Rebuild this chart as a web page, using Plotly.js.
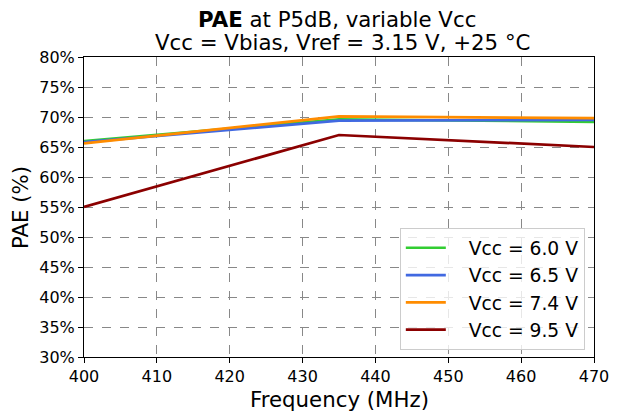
<!DOCTYPE html>
<html><head><meta charset="utf-8">
<script src="https://cdn.plot.ly/plotly-3.0.1.min.js"></script>
<style>html,body{margin:0;padding:0;background:#fff}#chart{width:622px;height:412px}</style>
</head><body><div id="chart"></div>
<script>
const freq = [400, 435, 470];
const pae60 = [66.0, 69.6, 69.2];
const pae65 = [65.8, 69.4, 69.5];
const pae74 = [65.6, 70.1, 69.8];
const pae95 = [55.0, 67.0, 65.0];
const names = ["Vcc = 6.0 V", "Vcc = 6.5 V", "Vcc = 7.4 V", "Vcc = 9.5 V"];
const colors = ["#32CD32", "#4169E1", "#FF8C00", "#8B0000"];
const series = [pae60, pae65, pae74, pae95];
const yTicks = [30,35,40,45,50,55,60,65,70,75,80];
const xTicks = [400,410,420,430,440,450,460,470];
const titleLine1 = "<b>PAE</b> at P5dB, variable Vcc";
const titleLine2 = "Vcc = Vbias, Vref = 3.15 V, +25 °C";
const xTitle = "Frequency (MHz)";
const yTitle = "PAE (%)";

const traces = series.map((s, i) => ({
  x: freq, y: s, type: 'scatter', mode: 'lines', name: '\u00a0\u00a0\u00a0' + names[i],
  line: {color: colors[i], width: 2.7}
}));

const font = "DejaVu Sans, sans-serif";
const big = 21.3;
const layout = {
  width: 622, height: 412,
  margin: {l: 84, r: 28, t: 57, b: 55},
  paper_bgcolor: '#fff', plot_bgcolor: '#fff',
  font: {family: font, color: '#000'},
  xaxis: {range: [400, 470], tickvals: xTicks, ticktext: xTicks.map(String),
          showline: true, linecolor: '#000', linewidth: 1, mirror: true,
          ticks: 'outside', ticklen: 5, tickcolor: '#000',
          showgrid: true, gridcolor: '#888', griddash: 'dash', gridwidth: 1,
          zeroline: false, tickfont: {size: 16}},
  yaxis: {range: [30, 80], tickvals: yTicks, ticktext: yTicks.map(v => v + '%'),
          showline: true, linecolor: '#000', linewidth: 1, mirror: true,
          ticks: 'outside', ticklen: 5, tickcolor: '#000',
          showgrid: true, gridcolor: '#888', griddash: 'dash', gridwidth: 1,
          zeroline: false, tickfont: {size: 16}},
  annotations: [
    {text: titleLine1, xref: 'paper', yref: 'paper', x: 0.496, y: 1.125, xanchor: 'center', yanchor: 'middle', showarrow: false, font: {size: big}, borderpad: 0},
    {text: titleLine2, xref: 'paper', yref: 'paper', x: 0.507, y: 1.047, xanchor: 'center', yanchor: 'middle', showarrow: false, font: {size: big}, borderpad: 0},
    {text: xTitle, xref: 'paper', yref: 'paper', x: 0.5, y: -0.14, xanchor: 'center', yanchor: 'middle', showarrow: false, font: {size: big}, borderpad: 0},
    {text: yTitle, xref: 'paper', yref: 'paper', x: -0.1255, y: 0.5, xanchor: 'center', yanchor: 'middle', textangle: -90, showarrow: false, font: {size: big}, borderpad: 0}
  ],
  legend: {x: 0.982, y: 0.023, xanchor: 'right', yanchor: 'bottom',
           bgcolor: 'rgba(255,255,255,0.8)', bordercolor: '#ccc', borderwidth: 1,
           font: {size: 18.7}, itemwidth: 40, tracegroupgap: 0},
  showlegend: true
};
Plotly.newPlot('chart', traces, layout, {staticPlot: true, displayModeBar: false});
</script></body></html>
